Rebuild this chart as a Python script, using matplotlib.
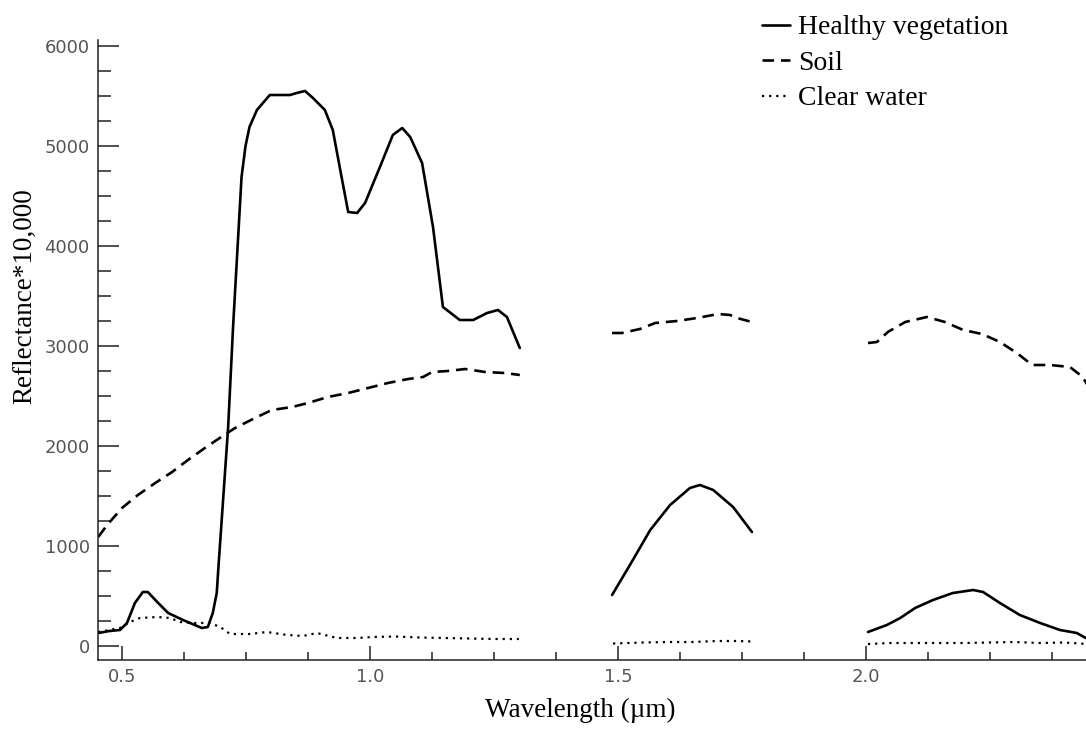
import numpy as np
import matplotlib
matplotlib.use("Agg")
import matplotlib.pyplot as plt
from matplotlib.ticker import MultipleLocator, FixedLocator

GAP = float("nan")  # water-absorption bands are left blank

# spectral curves (wavelength in um, reflectance*10,000)
veg_wl = [0.452, 0.475, 0.496, 0.51, 0.526, 0.542, 0.552, 0.571, 0.593, 0.623,
          0.661, 0.673, 0.683, 0.691, 0.694, 0.714, 0.724, 0.732, 0.741, 0.749,
          0.757, 0.772, 0.798, 0.839, 0.852, 0.869, 0.885, 0.909, 0.925, 0.94,
          0.956, 0.974, 0.99, 1.02, 1.046, 1.065, 1.081, 1.105, 1.127, 1.147,
          1.181, 1.208, 1.236, 1.258, 1.276, 1.302,
          GAP,
          1.488, 1.524, 1.565, 1.605, 1.645, 1.665, 1.692, 1.732, 1.77,
          GAP,
          2.004, 2.042, 2.069, 2.099, 2.135, 2.175, 2.216, 2.236, 2.27, 2.31,
          2.351, 2.391, 2.425, 2.443]
veg_val = [130, 150, 160, 230, 430, 540, 540, 440, 330, 260,
           180, 190, 330, 530, 760, 2190, 3200, 3900, 4690, 5000,
           5190, 5360, 5510, 5510, 5530, 5550, 5480, 5360, 5160, 4760,
           4340, 4330, 4430, 4790, 5110, 5180, 5090, 4830, 4190, 3390,
           3260, 3260, 3330, 3360, 3290, 2980,
           GAP,
           510, 810, 1160, 1410, 1580, 1610, 1560, 1390, 1140,
           GAP,
           140, 210, 280, 380, 460, 530, 560, 540, 430, 310,
           230, 160, 130, 80]

soil_wl = [0.452, 0.47, 0.5, 0.532, 0.567, 0.601, 0.633, 0.667, 0.70, 0.728,
           0.768, 0.802, 0.843, 0.875, 0.915, 0.956, 0.996, 1.036, 1.077, 1.107,
           1.125, 1.157, 1.192, 1.232, 1.272, 1.302,
           GAP,
           1.488, 1.508, 1.544, 1.575, 1.619, 1.659, 1.702, 1.726, 1.74, 1.77,
           GAP,
           2.004, 2.022, 2.044, 2.079, 2.123, 2.159, 2.196, 2.234, 2.27, 2.304,
           2.335, 2.371, 2.411, 2.437, 2.445]
soil_val = [1090, 1210, 1380, 1510, 1630, 1740, 1860, 1980, 2090, 2180,
            2280, 2360, 2390, 2430, 2490, 2530, 2580, 2630, 2670, 2690,
            2740, 2750, 2770, 2740, 2730, 2710,
            GAP,
            3130, 3130, 3170, 3230, 3250, 3280, 3320, 3310, 3280, 3240,
            GAP,
            3030, 3040, 3140, 3240, 3290, 3240, 3160, 3120, 3040, 2930,
            2810, 2810, 2790, 2690, 2620]

water_wl = [0.452, 0.496, 0.516, 0.536, 0.571, 0.597, 0.617, 0.643, 0.677, 0.698,
            0.718, 0.758, 0.792, 0.833, 0.865, 0.893, 0.933, 0.974, 1.006, 1.05,
            1.10, 1.15, 1.20, 1.25, 1.30,
            GAP,
            1.49, 1.55, 1.60, 1.65, 1.70, 1.74, 1.77,
            GAP,
            2.004, 2.05, 2.10, 2.15, 2.20, 2.25, 2.30, 2.35, 2.40, 2.445]
water_val = [140, 180, 240, 280, 290, 280, 240, 230, 230, 190,
             120, 120, 140, 110, 100, 130, 80, 80, 90, 95,
             85, 80, 75, 70, 70,
             GAP,
             25, 35, 40, 40, 50, 50, 45,
             GAP,
             20, 30, 30, 30, 30, 35, 40, 30, 35, 20]

series_labels = ["Healthy vegetation", "Soil", "Clear water"]
x_major = [0.5, 1.0, 1.5, 2.0]
x_major_labels = ["0.5", "1.0", "1.5", "2.0"]

W, H = 1086, 730
fig = plt.figure(figsize=(W / 100, H / 100), dpi=100)
ax = fig.add_axes([98 / W, 70 / H, 988 / W, 620 / H])

ax.plot(veg_wl, veg_val, color="black", lw=1.9, solid_capstyle="round",
        label=series_labels[0])
ax.plot(soil_wl, soil_val, color="black", lw=1.9, ls=(0, (4.4, 2.6)),
        label=series_labels[1])
ax.plot(water_wl, water_val, color="black", lw=1.6, ls=(0, (1, 2.2)),
        label=series_labels[2])

ax.set_xlim(0.4516, 2.4435)
ax.set_ylim(-140, 6060)

for side in ("top", "right"):
    ax.spines[side].set_visible(False)
for side in ("left", "bottom"):
    ax.spines[side].set_linewidth(1.1)
    ax.spines[side].set_color("#222")

ax.xaxis.set_major_locator(FixedLocator(x_major))
ax.set_xticklabels(x_major_labels)
ax.xaxis.set_minor_locator(MultipleLocator(0.125))
ax.yaxis.set_major_locator(MultipleLocator(1000))
ax.yaxis.set_minor_locator(MultipleLocator(250))

ax.tick_params(axis="x", which="major", direction="in", length=10, width=1.1,
               color="#222", pad=6, labelsize=13, labelcolor="#555")
ax.tick_params(axis="x", which="minor", direction="in", length=5.5, width=1.1,
               color="#222")
ax.tick_params(axis="y", which="major", direction="in", length=15, width=1.1,
               color="#222", pad=6, labelsize=13, labelcolor="#555")
ax.tick_params(axis="y", which="minor", direction="in", length=9.5, width=1.1,
               color="#222")

serif = ["Liberation Serif", "DejaVu Serif"]
ax.set_xlabel("Wavelength (\u00b5m)", family=serif, fontsize=19.5, va="center")
ax.xaxis.set_label_coords(0.488, -0.081)
ax.set_ylabel("Reflectance*10,000", family=serif, fontsize=19.5, va="center")
ax.yaxis.set_label_coords(-0.074, 0.587)

leg = fig.legend(loc="upper left", bbox_to_anchor=(762 / W, 1 - 15 / H),
                 frameon=False, prop={"family": serif, "size": 20},
                 handlelength=1.0, handletextpad=0.3, labelspacing=0.36,
                 borderpad=0, borderaxespad=0)

fig.savefig("out.png", dpi=100, facecolor="white")
